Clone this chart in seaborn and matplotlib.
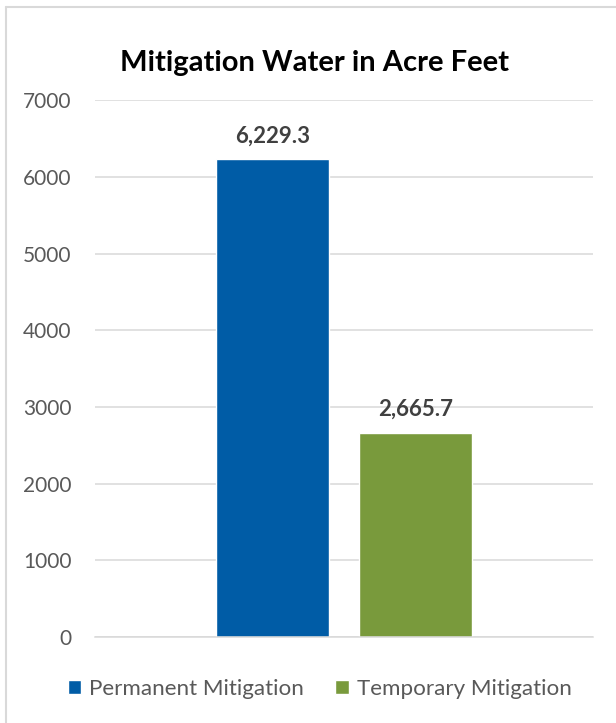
import matplotlib
matplotlib.use("Agg")
import matplotlib.pyplot as plt
from matplotlib.lines import Line2D
import pandas as pd
import seaborn as sns

# data
series = ["Permanent Mitigation", "Temporary Mitigation"]
values = [6229.3, 2665.7]
labels = ["6,229.3", "2,665.7"]
colors = ["#005CA6", "#799A3C"]
y_ticks = [0, 1000, 2000, 3000, 4000, 5000, 6000, 7000]

df = pd.DataFrame({"group": [""] * len(series), "series": series, "value": values})

sns.set_theme(style="white")
plt.rcParams["font.family"] = ["Lato", "DejaVu Sans"]

fig = plt.figure(figsize=(6.16, 7.23), dpi=100)
ax = fig.add_axes([0.1542, 0.1189, 0.8084, 0.7424])

sns.barplot(data=df, x="group", y="value", hue="series", palette=colors,
            width=0.572, gap=0.207, saturation=1, ax=ax, legend=True)

ax.set_ylim(0, 7000)
ax.set_xlim(-0.5, 0.5)
ax.set_yticks(y_ticks)
ax.set_yticklabels([str(t) for t in y_ticks])
ax.set_xticks([])
ax.set_xlabel("")
ax.set_ylabel("")
ax.tick_params(axis="y", length=0, pad=17, labelsize=15, labelcolor="#595959")
for s in ["top", "right", "left"]:
    ax.spines[s].set_visible(False)
ax.spines["bottom"].set_color("#D9D9D9")
ax.spines["bottom"].set_linewidth(1.1)
ax.yaxis.grid(True, color="#D9D9D9", linewidth=1.1)
ax.set_axisbelow(True)

for bar, lab in zip(ax.patches, labels):
    ax.annotate(lab, (bar.get_x() + bar.get_width() / 2, bar.get_height()),
                xytext=(0, 12), textcoords="offset points", ha="center",
                va="baseline", fontsize=16, fontweight="bold", color="#404040")

handles, names = ax.get_legend_handles_labels()
ax.get_legend().remove()
fig.legend(handles, names, loc="center", bbox_to_anchor=(0.519, 0.047), ncol=2,
           frameon=False, fontsize=16.1, labelcolor="#595959",
           handlelength=0.6, handleheight=0.6, handletextpad=0.35,
           columnspacing=1.4)

fig.text(0.51, 0.913, "Mitigation Water in Acre Feet", ha="center", va="center",
         fontsize=21, fontweight="bold", color="black")

# chart border (left and top edges visible)
fig.add_artist(Line2D([6 / 616, 6 / 616], [0, 1 - 7 / 723], color="#D9D9D9", lw=1.5))
fig.add_artist(Line2D([6 / 616, 1], [1 - 7 / 723, 1 - 7 / 723], color="#D9D9D9", lw=1.5))

fig.savefig("out.png", dpi=100)
